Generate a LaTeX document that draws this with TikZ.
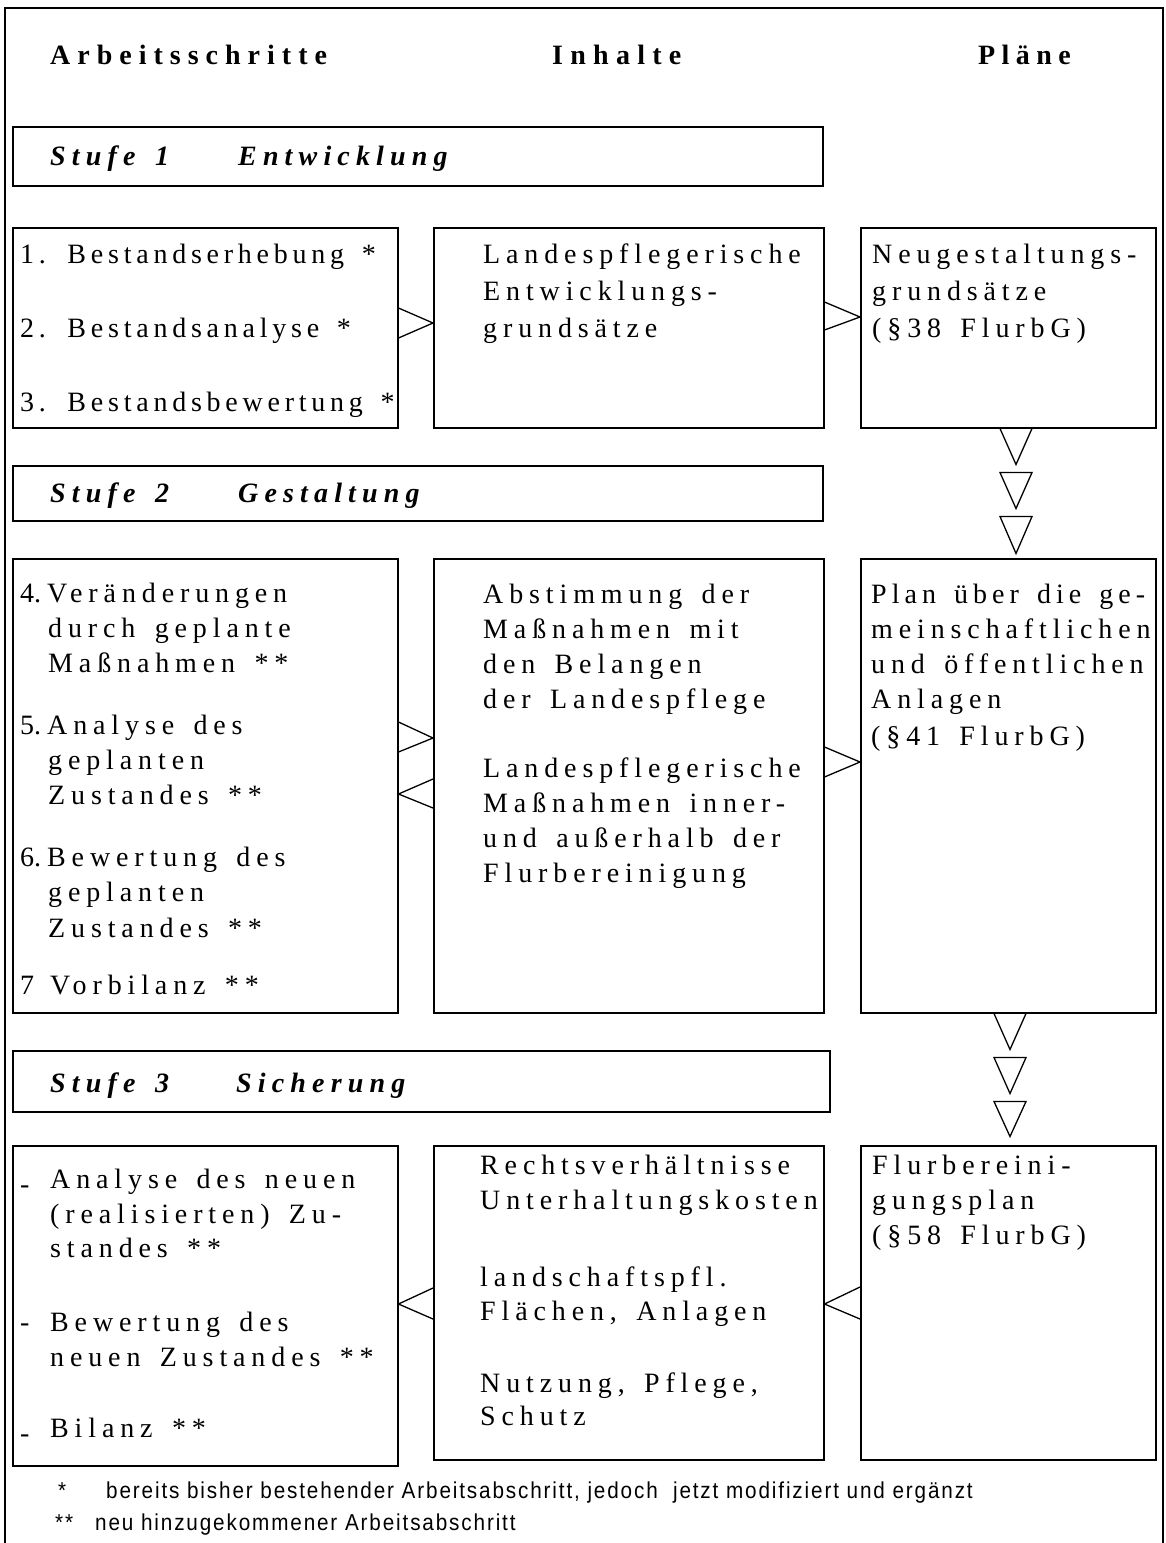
\documentclass[tikz,border=0pt]{standalone}
\usepackage{fontspec}
\setmainfont{Liberation Serif}
\newfontfamily\bodyfont[LetterSpace=21,WordSpace=1.5,Ligatures=NoCommon]{Liberation Serif}
\newfontfamily\headfont[LetterSpace=25,WordSpace=1.5,Ligatures=NoCommon]{Liberation Serif}
\newfontfamily\stagefont[LetterSpace=22,WordSpace=1.5,Ligatures=NoCommon]{Liberation Serif}
\newfontfamily\notefont[LetterSpace=9]{Liberation Sans}
\usetikzlibrary{calc}
\begin{document}
\begin{tikzpicture}[x=1pt,y=-1pt,
  box/.style={draw,line width=1.5pt,inner sep=0pt,anchor=north west},
  txt/.style={font=\bodyfont\fontsize{28}{35}\selectfont,inner sep=0pt,anchor=base west},
  head/.style={font=\headfont\bfseries\fontsize{28}{35}\selectfont,inner sep=0pt,anchor=base west},
  stage/.style={font=\stagefont\bfseries\itshape\fontsize{28}{35}\selectfont,inner sep=0pt,anchor=base west},
  note/.style={font=\notefont\fontsize{23}{26}\selectfont,inner sep=0pt,anchor=base west},
  tri/.style={line width=1.3pt,line join=miter}]
\useasboundingbox (0,0) rectangle (1166,1543);
% outer frame
\node[box,minimum width=1158pt,minimum height=1580pt] (frame) at (4,7) {};
% headers
\node[head] (h1) at (50,64) {Arbeitsschritte};
\node[head] (h2) at (552,64) {\addfontfeature{LetterSpace=26}Inhalte};
\node[head] (h3) at (978,64) {\addfontfeature{LetterSpace=23}Pläne};
% stage boxes
\node[box,minimum width=810pt,minimum height=59pt] (s1) at (12,126) {};
\node[stage] (s1a) at (50,165) {Stufe 1};
\node[stage] (s1b) at (238,165) {Entwicklung};
\node[box,minimum width=810pt,minimum height=55pt] (s2) at (12,465) {};
\node[stage] (s2a) at (50,502) {Stufe 2};
\node[stage] (s2b) at (238,502) {Gestaltung};
\node[box,minimum width=817pt,minimum height=61pt] (s3) at (12,1050) {};
\node[stage] (s3a) at (50,1092) {Stufe 3};
\node[stage] (s3b) at (236,1092) {Sicherung};
% row 1
\node[box,minimum width=385pt,minimum height=200pt] (b1l) at (12,227) {};
\node[box,minimum width=390pt,minimum height=200pt] (b1m) at (433,227) {};
\node[box,minimum width=295pt,minimum height=200pt] (b1r) at (860,227) {};
\foreach \yy/\s [count=\i] in {263/{1. Bestandserhebung *},337/{2. Bestandsanalyse *},411/{3. Bestandsbewertung *}}
  \node[txt] (t1l\i) at (20,\yy) {\addfontfeature{LetterSpace=17}\s};
\foreach \yy/\s [count=\i] in {263/{Landespflegerische},300/{Entwicklungs-},337/{grundsätze}}
  \node[txt] (t1m\i) at (483,\yy) {\s};
\foreach \yy/\s [count=\i] in {263/{Neugestaltungs-},300/{grundsätze},337/{(§38 FlurbG)}}
  \node[txt] (t1r\i) at (872,\yy) {\s};
\draw[tri] ($(b1l.north east)+(0,81)$) -- ($(b1m.north west)+(0,96)$) -- ($(b1l.north east)+(0,111)$);
\draw[tri] ($(b1m.north east)+(0,75)$) -- ($(b1r.north west)+(0,90)$) -- ($(b1m.north east)+(0,103)$);
% row 2
\node[box,minimum width=385pt,minimum height=454pt] (b2l) at (12,558) {};
\node[box,minimum width=390pt,minimum height=454pt] (b2m) at (433,558) {};
\node[box,minimum width=295pt,minimum height=454pt] (b2r) at (860,558) {};
\foreach \yy/\s [count=\i] in {602/{\makebox[27pt][l]{\addfontfeature{LetterSpace=0}4.}Veränderungen},
    734/{\makebox[27pt][l]{\addfontfeature{LetterSpace=0}5.}Analyse des},
    866/{\makebox[27pt][l]{\addfontfeature{LetterSpace=0}6.}Bewertung des},
    994/{\makebox[30pt][l]{7}Vorbilanz **}}
  \node[txt] (t2ln\i) at (20,\yy) {\s};
\foreach \yy/\s [count=\i] in {637/{durch geplante},672/{Maßnahmen **},769/{geplanten},804/{Zustandes **},901/{geplanten},937/{Zustandes **}}
  \node[txt] (t2lc\i) at (48,\yy) {\s};
\foreach \yy/\s [count=\i] in {603/{Abstimmung der},638/{Maßnahmen mit},673/{den Belangen},708/{der Landespflege},777/{Landespflegerische},812/{Maßnahmen inner-},847/{und außerhalb der},882/{Flurbereinigung}}
  \node[txt] (t2m\i) at (483,\yy) {\s};
\node[txt] (t2r1) at (871,603) {\addfontfeature{LetterSpace=18}Plan über die ge-};
\foreach \yy/\s [count=\i from 2] in {638/{meinschaftlichen},673/{und öffentlichen},708/{Anlagen},745/{(§41 FlurbG)}}
  \node[txt] (t2r\i) at (871,\yy) {\s};
\draw[tri] ($(b2l.north east)+(0,164)$) -- ($(b2m.north west)+(0,180)$) -- ($(b2l.north east)+(0,194)$);
\draw[tri] ($(b2m.north west)+(0,221)$) -- ($(b2l.north east)+(0,236)$) -- ($(b2m.north west)+(0,250)$);
\draw[tri] ($(b2m.north east)+(0,189)$) -- ($(b2r.north west)+(0,204)$) -- ($(b2m.north east)+(0,219)$);
% triangles down, set 1
\draw[tri] ($(b1r.south west)+(140,0)$) -- ($(b1r.south west)+(156,36)$) -- ($(b1r.south west)+(172,0)$);
\draw[tri] ($(b1r.south west)+(140,44)$) -- ($(b1r.south west)+(156,80)$) -- ($(b1r.south west)+(172,44)$) -- cycle;
\draw[tri] ($(b1r.south west)+(140,88)$) -- ($(b1r.south west)+(156,125)$) -- ($(b1r.south west)+(172,88)$) -- cycle;
% row 3
\node[box,minimum width=385pt,minimum height=320pt] (b3l) at (12,1145) {};
\node[box,minimum width=390pt,minimum height=314pt] (b3m) at (433,1145) {};
\node[box,minimum width=295pt,minimum height=314pt] (b3r) at (860,1145) {};
\foreach \yy/\s [count=\i] in {1188/{\makebox[30pt][l]{\raisebox{-5pt}{-}}Analyse des neuen},1331/{\makebox[30pt][l]{-}Bewertung des},1437/{\makebox[30pt][l]{\raisebox{-5pt}{-}}Bilanz **}}
  \node[txt] (t3ln\i) at (20,\yy) {\s};
\foreach \yy/\s [count=\i] in {1223/{(realisierten) Zu-},1257/{standes **},1366/{neuen Zustandes **}}
  \node[txt] (t3lc\i) at (50,\yy) {\s};
\foreach \yy/\s [count=\i] in {1174/{Rechtsverhältnisse},1209/{Unterhaltungskosten},1286/{landschaftspfl.},1320/{Flächen, Anlagen},1392/{Nutzung, Pflege,},1425/{Schutz}}
  \node[txt] (t3m\i) at (480,\yy) {\s};
\foreach \yy/\s [count=\i] in {1174/{Flurbereini-},1209/{gungsplan},1244/{(§58 FlurbG)}}
  \node[txt] (t3r\i) at (872,\yy) {\s};
\draw[tri] ($(b3m.north west)+(0,143)$) -- ($(b3l.north east)+(0,159)$) -- ($(b3m.north west)+(0,174)$);
\draw[tri] ($(b3r.north west)+(0,142)$) -- ($(b3m.north east)+(0,159)$) -- ($(b3r.north west)+(0,174)$);
% triangles down, set 2
\draw[tri] ($(b2r.south west)+(134,0)$) -- ($(b2r.south west)+(150,36)$) -- ($(b2r.south west)+(166,0)$);
\draw[tri] ($(b2r.south west)+(134,44)$) -- ($(b2r.south west)+(150,80)$) -- ($(b2r.south west)+(166,44)$) -- cycle;
\draw[tri] ($(b2r.south west)+(134,88)$) -- ($(b2r.south west)+(150,123)$) -- ($(b2r.south west)+(166,88)$) -- cycle;
% footnotes
\node[note] (n1a) at (58,1498) {\scalebox{0.9}[1]{*}};
\node[note] (n1b) at (106,1498) {\scalebox{0.9}[1]{bereits bisher bestehender Arbeitsabschritt, jedoch\ \ jetzt modifiziert und ergänzt}};
\node[note] (n2a) at (55,1530) {\scalebox{0.9}[1]{**}};
\node[note] (n2b) at (95,1530) {\scalebox{0.9}[1]{neu hinzugekommener Arbeitsabschritt}};
\end{tikzpicture}
\end{document}
